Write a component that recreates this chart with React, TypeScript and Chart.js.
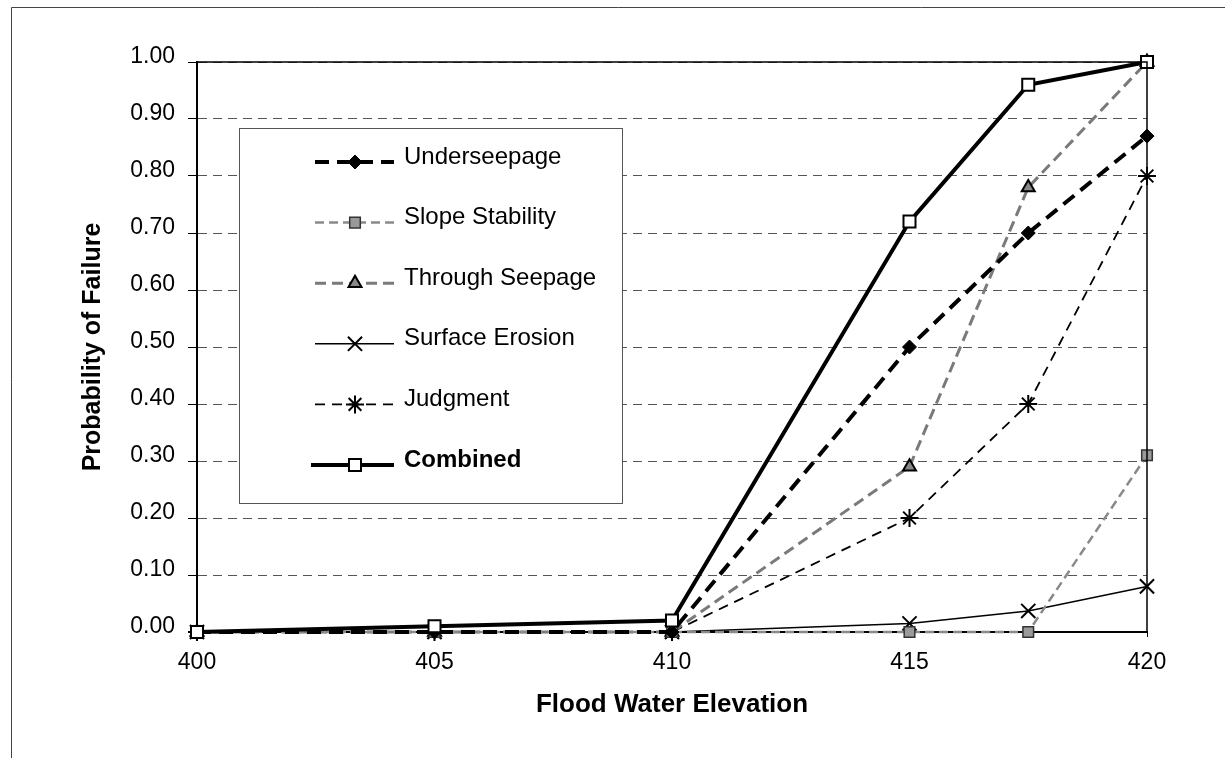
import React, { useEffect, useRef } from "react";
import { Chart, registerables } from "chart.js";
import { drawPoint } from "chart.js/helpers";

Chart.register(...registerables);

const elevations = [400, 405, 410, 415, 417.5, 420];
const underseepage = [0, 0, 0, 0.5, 0.7, 0.87];
const slopeStability = [0, 0, 0, 0, 0, 0.31];
const throughSeepage = [0, 0, 0, 0.29, 0.78, 1.0];
const surfaceErosion = [0, 0, 0, 0.015, 0.037, 0.08];
const judgment = [0, 0, 0, 0.2, 0.4, 0.8];
const combined = [0, 0.01, 0.02, 0.72, 0.96, 1.0];
const seriesNames = [
  "Underseepage",
  "Slope Stability",
  "Through Seepage",
  "Surface Erosion",
  "Judgment",
  "Combined",
];
const xTitle = "Flood Water Elevation";
const yTitle = "Probability of Failure";

const FONT = "'Liberation Sans', Arial, Helvetica, sans-serif";

const styles = [
  { color: "#000", width: 4, dash: [14, 8], point: "rectRot", r: 7, fill: "#000", pbw: 1 },
  { color: "#8a8a8a", width: 2.5, dash: [9, 5], point: "rect", r: 7.5, fill: "#9a9a9a", pbw: 1.5, pborder: "#333" },
  { color: "#7a7a7a", width: 3, dash: [11, 6], point: "triangle", r: 7.5, fill: "#888", pbw: 2, pborder: "#000" },
  { color: "#000", width: 1.5, dash: [], point: "crossRot", r: 10, fill: "#000", pbw: 2 },
  { color: "#000", width: 1.8, dash: [10, 7], point: "star", r: 9, fill: "#000", pbw: 2 },
  { color: "#000", width: 4, dash: [], point: "rect", r: 8.5, fill: "#fff", pbw: 2, pborder: "#000" },
];

const seriesValues = [underseepage, slopeStability, throughSeepage, surfaceErosion, judgment, combined];

const framePlugin = {
  id: "frame",
  afterDatasetsDraw(chart: any) {
    const { ctx, chartArea: a } = chart;
    ctx.save();
    ctx.strokeStyle = "#000";
    ctx.lineWidth = 1.5;
    ctx.setLineDash([]);
    ctx.beginPath();
    ctx.moveTo(a.left, a.top);
    ctx.lineTo(a.right, a.top);
    ctx.lineTo(a.right, a.bottom);
    ctx.stroke();
    ctx.restore();
  },
  afterDraw(chart: any) {
    const { ctx } = chart;
    ctx.save();
    ctx.strokeStyle = "#444";
    ctx.lineWidth = 1;
    ctx.beginPath();
    ctx.moveTo(11.5, 758);
    ctx.lineTo(11.5, 7.5);
    ctx.lineTo(1225, 7.5);
    ctx.stroke();

    const bx = 239, by = 128, bw = 383, bh = 375;
    ctx.fillStyle = "#fff";
    ctx.fillRect(bx, by, bw, bh);
    ctx.strokeStyle = "#555";
    ctx.lineWidth = 1;
    ctx.strokeRect(bx + 0.5, by + 0.5, bw, bh);

    const rowY0 = 162;
    const rowStep = 60.6;
    seriesNames.forEach((name, i) => {
      const s = styles[i];
      const y = rowY0 + i * rowStep;
      ctx.save();
      ctx.strokeStyle = s.color;
      ctx.lineWidth = s.width;
      ctx.setLineDash(s.dash);
      ctx.beginPath();
      ctx.moveTo(i === 5 ? 311 : 315, y);
      ctx.lineTo(394, y);
      ctx.stroke();
      ctx.setLineDash([]);
      ctx.fillStyle = s.fill;
      ctx.strokeStyle = s.pborder || s.fill;
      ctx.lineWidth = s.pbw;
      drawPoint(ctx, { pointStyle: s.point, radius: s.r, rotation: 0, borderWidth: s.pbw } as any, 355, y);
      ctx.restore();
      ctx.fillStyle = "#000";
      ctx.font = (i === 5 ? "bold " : "") + "24px " + FONT;
      ctx.textBaseline = "middle";
      ctx.textAlign = "left";
      ctx.fillText(name, 404, y - 5);
    });
    ctx.restore();
  },
};

export default function App() {
  const ref = useRef<HTMLCanvasElement>(null);
  useEffect(() => {
    const canvas = ref.current!;
    const datasets = seriesNames.map((name, i) => {
      const s = styles[i];
      return {
        label: name,
        data: elevations.map((x, j) => ({ x, y: seriesValues[i][j] })),
        borderColor: s.color,
        borderWidth: s.width,
        borderDash: s.dash,
        pointStyle: s.point,
        pointRadius: s.r,
        pointBackgroundColor: s.fill,
        pointBorderColor: s.pborder || s.fill,
        pointBorderWidth: s.pbw,
        fill: false,
        tension: 0,
        clip: false,
        order: i === 5 ? -1 : i,
      };
    });
    const chart = new Chart(canvas, {
      type: "line",
      data: { datasets } as any,
      options: {
        responsive: false,
        animation: false,
        devicePixelRatio: 1,
        layout: { padding: { left: 78, top: 62, right: 78, bottom: 38 } },
        plugins: { legend: { display: false }, tooltip: { enabled: false } },
        scales: {
          x: {
            type: "linear",
            min: 400,
            max: 420,
            afterFit(scale: any) {
              scale.height = 88;
            },
            ticks: {
              stepSize: 5,
              color: "#000",
              font: { family: FONT, size: 23 },
              padding: 12,
              maxRotation: 0,
            },
            grid: {
              display: true,
              drawOnChartArea: false,
              drawTicks: true,
              tickLength: 5,
              tickColor: "#000",
              tickWidth: 1,
            },
            border: { display: true, color: "#000", width: 2 },
            title: {
              display: true,
              text: xTitle,
              color: "#000",
              font: { family: FONT, size: 26, weight: "bold" },
              padding: { top: 0, bottom: 0 },
            },
          },
          y: {
            type: "linear",
            min: 0,
            max: 1,
            afterFit(scale: any) {
              scale.width = 119;
            },
            ticks: {
              stepSize: 0.1,
              color: "#000",
              font: { family: FONT, size: 23 },
              padding: 13,
              labelOffset: -5,
              callback: (v: any) => Number(v).toFixed(2),
            },
            grid: {
              display: true,
              color: "#555",
              lineWidth: 1,
              drawTicks: true,
              tickLength: 9,
              tickColor: "#000",
              tickWidth: 1,
              tickBorderDash: [],
            },
            border: { display: true, color: "#000", width: 2, dash: [9, 6] },
            title: {
              display: true,
              text: yTitle,
              color: "#000",
              font: { family: FONT, size: 25, weight: "bold" },
              padding: { top: 0, bottom: 0 },
            },
          },
        },
      } as any,
      plugins: [framePlugin],
    });
    return () => chart.destroy();
  }, []);
  return (
    <div style={{ position: "fixed", left: 0, top: 0, width: 1225, height: 758, background: "#fff" }}>
      <canvas ref={ref} width={1225} height={758} style={{ display: "block" }} />
    </div>
  );
}
